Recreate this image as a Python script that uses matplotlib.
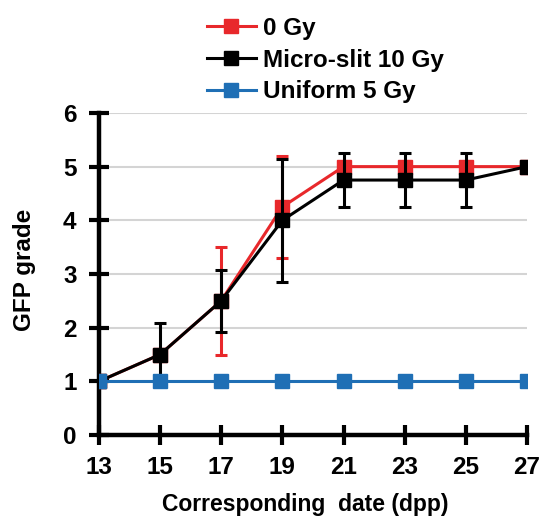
import numpy as np
import matplotlib.pyplot as plt
from matplotlib.lines import Line2D

plt.rcParams['font.family'] = ['Liberation Sans', 'DejaVu Sans']
plt.rcParams['font.weight'] = 'bold'

# GFP grade over corresponding date
days = [13, 15, 17, 19, 21, 23, 25, 27]
gy0 = [1, 1.5, 2.5, 4.25, 5, 5, 5, 5]
gy0_err = [0, 0, 1.0, 0.95, 0, 0, 0, 0]
slit10 = [1, 1.5, 2.5, 4.0, 4.75, 4.75, 4.75, 5]
slit10_err = [0, 0.58, 0.58, 1.15, 0.5, 0.5, 0.5, 0]
uniform5 = [1, 1, 1, 1, 1, 1, 1, 1]
labels = ['0 Gy', 'Micro-slit 10 Gy', 'Uniform 5 Gy']

red = '#e8282b'
blue = '#1f6fb5'
fs = 17.5

fig = plt.figure(figsize=(5.4, 5.18), dpi=100)
ax = fig.add_axes([0.183, 0.160, 0.793, 0.622])

ax.errorbar(days, gy0, yerr=gy0_err, color=red, lw=2.2, marker='s', ms=10.5,
            capsize=4.3, capthick=2.2, elinewidth=2.2, zorder=3)
ax.errorbar(days, slit10, yerr=slit10_err, color='black', lw=2.2, marker='s', ms=10.5,
            capsize=4.3, capthick=2.2, elinewidth=2.2, zorder=4)
ax.plot(days, uniform5, color=blue, lw=2.2, marker='s', ms=10.5, zorder=5)

ax.set_xlim(13, 27)
ax.set_ylim(0, 6)
ax.set_xticks(days)
ax.set_yticks(range(7))
ax.grid(axis='y', color='#d4d4d4', lw=1.5, zorder=0)
ax.set_axisbelow(True)

for s in ['top', 'right']:
    ax.spines[s].set_visible(False)
for s in ['left', 'bottom']:
    ax.spines[s].set_linewidth(3.2)
ax.tick_params(direction='inout', length=14, width=3, labelsize=fs)
ax.tick_params(axis='y', pad=9)
ax.tick_params(axis='x', pad=8)
for lab in ax.get_xticklabels() + ax.get_yticklabels():
    lab.set_fontweight('bold')

ax.set_xlabel('Corresponding  date (dpp)', fontsize=16.5, fontweight='bold')
ax.set_ylabel('GFP grade', fontsize=fs, fontweight='bold')
ax.xaxis.set_label_coords(0.481, -0.18)
ax.yaxis.set_label_coords(-0.146, 0.512)

handles = [Line2D([], [], color=c, lw=2.2, marker='s', ms=10.5) for c in [red, 'black', blue]]
fig.legend(handles, labels, loc='upper left', bbox_to_anchor=(207 / 540, 1 - 17 / 518),
           bbox_transform=fig.transFigure, frameon=False, borderpad=0, borderaxespad=0,
           handlelength=2.0, handletextpad=0.3, labelspacing=0.35,
           prop={'weight': 'bold', 'size': fs})

fig.savefig('out.png', dpi=100)
